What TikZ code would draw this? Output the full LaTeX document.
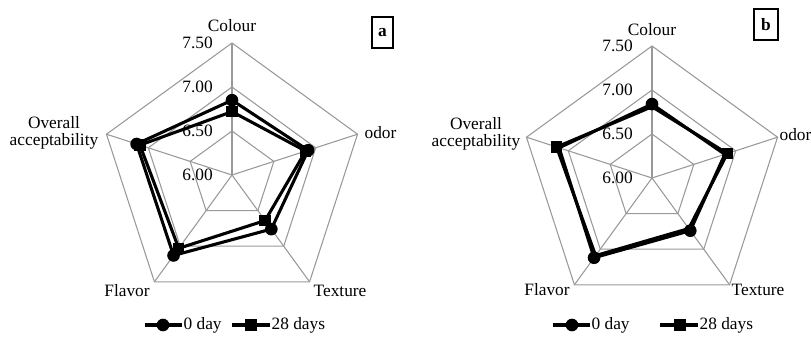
\documentclass[tikz,border=0pt]{standalone}
\usepackage{fontspec}
\setmainfont{Liberation Serif}
\usetikzlibrary{positioning}

\tikzset{
  webline/.style={black!40, line width=0.8pt},
  series/.style={line width=2.3pt, line join=miter},
  dotmark/.style={circle, fill=black, inner sep=0pt, minimum size=9.5pt},
  sqmark/.style={rectangle, fill=black, inner sep=0pt, minimum size=8.5pt},
  lab/.style={font=\fontsize{13}{15}\selectfont, inner sep=1pt},
  ticklab/.style={lab, anchor=east, inner sep=0pt},
  panel/.style={draw, line width=1.1pt, font=\fontsize{13}{15}\selectfont\bfseries,
    inner sep=0pt, minimum height=23.25pt}
}

% value -> radius (6.00 at centre, 7.50 at the rim)
\newcommand{\rv}[1]{{(#1-6)*88}}

\begin{document}
\begin{tikzpicture}[x=0.75pt, y=0.75pt]
\useasboundingbox (0,0) rectangle (811,336);

% chart a
\begin{scope}[shift={(232,161)}]
  \foreach \r in {44,88,132}
    \draw[webline] (90:\r) -- (18:\r) -- (-54:\r) -- (-126:\r) -- (162:\r) -- cycle;
  \foreach \a in {90,18,-54,-126,162}
    \draw[webline] (0,0) -- (\a:132);
  \foreach \r/\t in {0/6.00,44/6.50,88/7.00,132/7.50}
    \node[ticklab] at (-19,\r) {\t};
  \node[lab] (a-colour) at (0,149) {Colour};
  \node[lab, anchor=west] (a-odor) at (131,42) {odor};
  \node[lab, anchor=east] (a-texture) at (136,-116) {Texture};
  \node[lab] (a-flavor) at (-105,-116) {Flavor};
  \node[lab, align=center] (a-overall) at (-178,42) {Overall\\[-2pt]acceptability};
  % 0 day
  \draw[series] (90:\rv{6.85}) -- (18:\rv{6.91}) -- (-54:\rv{6.76})
    -- (-126:\rv{7.13}) -- (162:\rv{7.14}) -- cycle;
  \foreach \a/\v in {90/6.85,18/6.91,-54/6.76,-126/7.13,162/7.14}
    \node[dotmark] at (\a:\rv{\v}) {};
  % 28 days
  \draw[series] (90:\rv{6.72}) -- (18:\rv{6.88}) -- (-54:\rv{6.64})
    -- (-126:\rv{7.03}) -- (162:\rv{7.10}) -- cycle;
  \foreach \a/\v in {90/6.72,18/6.88,-54/6.64,-126/7.03,162/7.10}
    \node[sqmark] at (\a:\rv{\v}) {};
\end{scope}
\node[panel, minimum width=15.75pt] (a-tag) at (382.5,303.5) {a};

% legend a
\coordinate (la1) at (145,11);
\coordinate (la2) at (182,11);
\draw[series] (la1) -- (la2);
\node[dotmark] at (163,11) {};
\node[lab, anchor=west] (a-leg0) at (la2) {0 day};
\coordinate (la3) at (232,11);
\coordinate (la4) at (270,11);
\draw[series] (la3) -- (la4);
\node[sqmark] at (251,11) {};
\node[lab, anchor=west] (a-leg28) at (la4) {28 days};

% chart b
\begin{scope}[shift={(652,158)}]
  \foreach \r in {44,88,132}
    \draw[webline] (90:\r) -- (18:\r) -- (-54:\r) -- (-126:\r) -- (162:\r) -- cycle;
  \foreach \a in {90,18,-54,-126,162}
    \draw[webline] (0,0) -- (\a:132);
  \foreach \r/\t in {0/6.00,44/6.50,88/7.00,132/7.50}
    \node[ticklab] at (-19,\r) {\t};
  \node[lab] (b-colour) at (0,148) {Colour};
  \node[lab, anchor=west] (b-odor) at (126,43) {odor};
  \node[lab, anchor=east] (b-texture) at (134,-112) {Texture};
  \node[lab] (b-flavor) at (-105,-112) {Flavor};
  \node[lab, align=center] (b-overall) at (-176,44) {Overall\\[-2pt]acceptability};
  % 0 day
  \draw[series] (90:\rv{6.84}) -- (18:\rv{6.87}) -- (-54:\rv{6.74})
    -- (-126:\rv{7.12}) -- (162:\rv{7.11}) -- cycle;
  \foreach \a/\v in {90/6.84,-54/6.74,-126/7.12}
    \node[dotmark] at (\a:\rv{\v}) {};
  % 28 days
  \draw[series] (90:\rv{6.81}) -- (18:\rv{6.90}) -- (-54:\rv{6.71})
    -- (-126:\rv{7.09}) -- (162:\rv{7.14}) -- cycle;
  \foreach \a/\v in {18/6.90,162/7.14}
    \node[sqmark] at (\a:\rv{\v}) {};
\end{scope}
\node[panel, minimum width=18pt] (b-tag) at (766,311.5) {b};

% legend b
\coordinate (lb1) at (553,11);
\coordinate (lb2) at (590,11);
\draw[series] (lb1) -- (lb2);
\node[dotmark] at (572,11) {};
\node[lab, anchor=west] (b-leg0) at (lb2) {0 day};
\coordinate (lb3) at (660,11);
\coordinate (lb4) at (698,11);
\draw[series] (lb3) -- (lb4);
\node[sqmark] at (680,11) {};
\node[lab, anchor=west] (b-leg28) at (lb4) {28 days};
\end{tikzpicture}
\end{document}
